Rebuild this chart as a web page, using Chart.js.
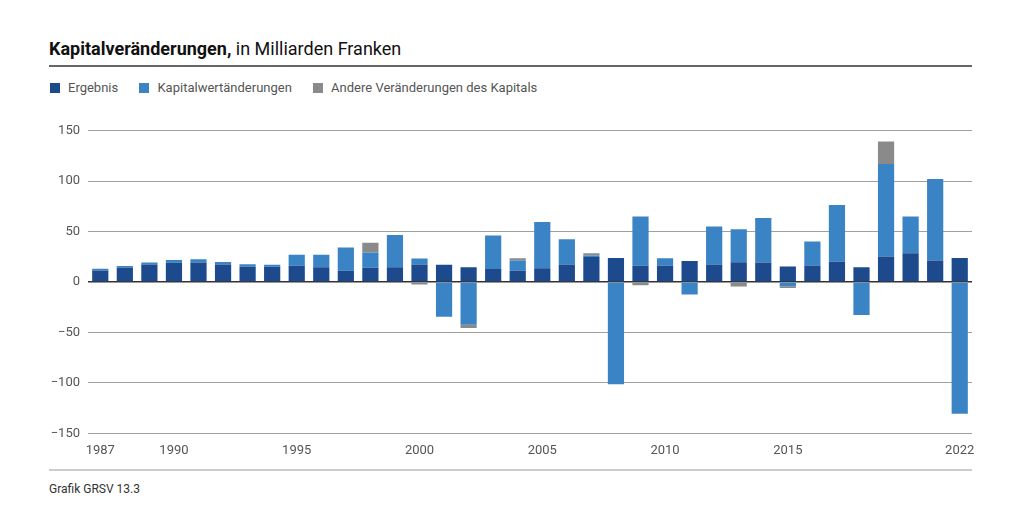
<!DOCTYPE html>
<html>
<head>
<meta charset="utf-8">
<script src="https://cdn.jsdelivr.net/npm/chart.js@4"></script>
<style>
  body { margin: 0; background: #fff; font-family: Roboto, sans-serif; }
  #title { position: absolute; left: 49px; top: 38px; font-size: 18px; color: #111; }
  #title b { font-weight: 700; }
  #rule1 { position: absolute; left: 49px; top: 65px; width: 923px; height: 2px; background: #666; }
  #legend { position: absolute; left: 50px; top: 80px; font-size: 13px; color: #555; }
  #legend span.item { margin-right: 18px; }
  #legend i { display: inline-block; width: 10px; height: 10px; margin-right: 8px; vertical-align: -1px; }
  #wrap { position: absolute; left: 40px; top: 115px; width: 940px; height: 346px; }
  #rule2 { position: absolute; left: 49px; top: 469px; width: 923px; height: 2px; background: #ccc; }
  #source { position: absolute; left: 49px; top: 482px; font-size: 12px; color: #333; }
</style>
</head>
<body>
<div id="title"><b>Kapitalveränderungen,</b> in Milliarden Franken</div>
<div id="rule1"></div>
<div id="legend">
  <span class="item"><i style="background:#1d4a8c"></i>Ergebnis</span>
  <span class="item"><i style="background:#3a84c5"></i>Kapitalwertänderungen</span>
  <span class="item"><i style="background:#8a8a8a"></i>Andere Veränderungen des Kapitals</span>
</div>
<div id="wrap"><canvas id="c"></canvas></div>
<div id="rule2"></div>
<div id="source">Grafik GRSV 13.3</div>
<script>
const years = [];
for (let y = 1987; y <= 2022; y++) years.push(String(y));
const shownYears = ['1987', '1990', '1995', '2000', '2005', '2010', '2015', '2022'];

const ergebnis = [11.6, 14.2, 17.5, 19.1, 19.5, 17.5, 15.2, 15.2, 16.2, 14.8, 11.2, 14.2,
  14.8, 17.5, 17.2, 14.8, 13.0, 11.2, 13.8, 17.5, 25.0, 24.0, 16.2, 16.2,
  20.8, 17.5, 19.8, 19.5, 15.5, 16.5, 20.1, 14.8, 25.4, 28.7, 21.4, 24.0];
const kapitalwert = [1.6, 1.7, 2.0, 2.9, 3.2, 2.5, 2.6, 2.0, 10.8, 12.2, 23.1, 15.1,
  32.0, 5.9, -34.3, -42.2, 33.2, 10.3, 45.9, 25.0, 1.4, -101.2, 48.8, 7.5,
  -12.2, 37.6, 32.6, 44.1, -4.2, 23.7, 56.4, -32.6, 91.6, 36.3, 80.8, -130.6];
const andere = [0, 0, 0, 0, 0, 0, 0, 0, 0, 0, 0, 9.6,
  0, -2.3, 0, -3.3, 0, 2.2, 0, 0, 2.3, 0, -3.0, 0,
  0, 0, -4.3, 0, -1.6, 0, 0, 0, 22.5, 0, 0, 0];

new Chart(document.getElementById('c'), {
  type: 'bar',
  data: {
    labels: years,
    datasets: [
      { label: 'Ergebnis', data: ergebnis, backgroundColor: '#1d4a8c' },
      { label: 'Kapitalwertänderungen', data: kapitalwert, backgroundColor: '#3a84c5' },
      { label: 'Andere Veränderungen des Kapitals', data: andere, backgroundColor: '#8a8a8a' }
    ]
  },
  options: {
    responsive: true,
    maintainAspectRatio: false,
    animation: false,
    layout: { padding: { top: 8, right: 8, bottom: 0, left: 0 } },
    datasets: { bar: { categoryPercentage: 1, barPercentage: 0.66 } },
    plugins: { legend: { display: false }, tooltip: { enabled: false } },
    scales: {
      x: {
        stacked: true,
        grid: { display: false },
        border: { display: false },
        ticks: {
          autoSkip: false,
          maxRotation: 0,
          padding: 2,
          color: '#555',
          font: { family: 'Roboto', size: 13 },
          callback: function (v) {
            const l = this.getLabelForValue(v);
            return shownYears.includes(l) ? l : '';
          }
        }
      },
      y: {
        stacked: true,
        min: -150,
        max: 150,
        afterFit: s => { s.width = 48; },
        grid: {
          drawTicks: false,
          color: c => c.tick.value === 0 ? '#333' : '#a0a0a0',
          lineWidth: c => c.tick.value === 0 ? 1.5 : 1
        },
        border: { display: false },
        ticks: {
          stepSize: 50,
          padding: 8,
          color: '#555',
          font: { family: 'Roboto', size: 13 },
          callback: v => String(v).replace('-', '\u2212')
        }
      }
    }
  }
});
</script>
</body>
</html>
